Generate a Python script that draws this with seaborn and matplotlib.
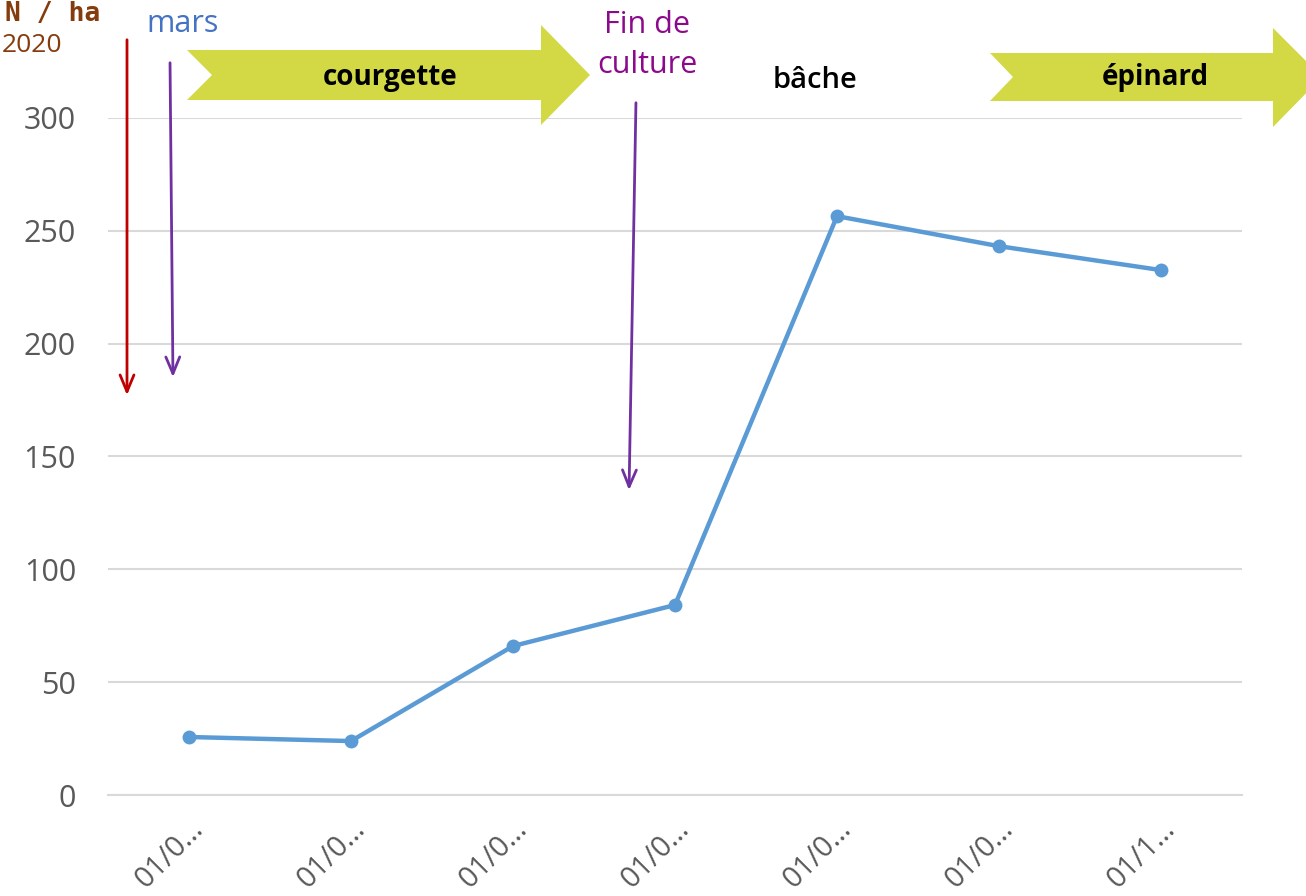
import numpy as np
import pandas as pd
import matplotlib
matplotlib.use("Agg")
import matplotlib.pyplot as plt
from matplotlib.patches import Polygon
import seaborn as sns

# Data
date_labels = ["01/0…", "01/0…", "01/0…", "01/0…", "01/0…", "01/0…", "01/1…"]
n_values = [25.7, 23.9, 66.0, 84.2, 256.5, 243.2, 232.6]
y_ticks = [0, 50, 100, 150, 200, 250, 300]

sns.set_theme(style="white")
plt.rcParams['font.family'] = ['Open Sans', 'DejaVu Sans']

W, H = 1306, 896
fig = plt.figure(figsize=(W / 100, H / 100), dpi=100)
ax = fig.add_axes([108 / W, 1 - 795 / H, (1242 - 108) / W, (795 - 118) / H])

df = pd.DataFrame({"pos": np.arange(len(n_values)), "val": n_values})
sns.lineplot(data=df, x="pos", y="val", ax=ax, color="#5B9BD5", linewidth=3.2,
             marker="o", markersize=10, markeredgewidth=0)

ax.set_xlim(-0.5, len(n_values) - 0.5)
ax.set_ylim(0, 300)
ax.set_yticks(y_ticks)
ax.set_yticklabels([str(v) for v in y_ticks], fontsize=22, color="#595959")
ax.set_xticks(df["pos"])
ax.set_xticklabels(date_labels, rotation=45, ha="right", rotation_mode="anchor",
                   fontsize=21, color="#595959")
ax.set_xticks(np.arange(len(n_values) + 1) - 0.5, minor=True)
ax.tick_params(axis="x", which="major", length=0, pad=14)
ax.tick_params(axis="x", which="minor", length=12, width=1.3, color="#D9D9D9")
ax.tick_params(axis="y", length=0, pad=23)
ax.set_xlabel("")
ax.set_ylabel("")
ax.grid(axis="y", color="#D9D9D9", linewidth=1.5)
ax.set_axisbelow(True)
for side in ["top", "right", "left"]:
    ax.spines[side].set_visible(False)
ax.spines["bottom"].set_color("#D9D9D9")
ax.spines["bottom"].set_linewidth(1.5)


def fpt(px, py):
    return (px / W, 1 - py / H)


def banner(x0, notch, body_end, tip, head_top, body_top, body_bot, head_bot):
    mid = (body_top + body_bot) / 2
    pts = [fpt(x0, body_top), fpt(body_end, body_top), fpt(body_end, head_top),
           fpt(tip, mid), fpt(body_end, head_bot), fpt(body_end, body_bot),
           fpt(x0, body_bot), fpt(notch, mid)]
    fig.patches.append(Polygon(pts, closed=True, transform=fig.transFigure,
                               facecolor="#D2D945", edgecolor="none"))


banner(187, 212, 541, 590, 25, 50, 100, 125)
banner(990, 1013, 1273, 1322, 28, 53, 101, 127)

fig.text(*fpt(390, 77), "courgette", ha="center", va="center", fontsize=20,
         fontweight="bold", color="black")
fig.text(*fpt(1155, 78), "épinard", ha="center", va="center", fontsize=20,
         fontweight="bold", color="black")
fig.text(*fpt(815, 80), "bâche", ha="center", va="center", fontsize=21,
         fontweight="semibold", color="black")
fig.text(*fpt(183, 24), "mars", ha="center", va="center", fontsize=22, color="#4472C4")
fig.text(*fpt(647, 45), "Fin de\nculture", ha="center", va="center", fontsize=22,
         color="#8B0A8B", linespacing=1.45)
fig.text(*fpt(100, 14), "N / ha", ha="right", va="center", fontsize=19,
         fontweight="bold", color="#843C0C", family="DejaVu Sans Mono")
fig.text(*fpt(62, 45), "2020", ha="right", va="center", fontsize=19, color="#843C0C")

arrows = [((127, 37), (127, 398), "#C00000"),
          ((170, 60), (173, 380), "#7030A0"),
          ((636, 100), (629, 493), "#7030A0")]
for start, end, col in arrows:
    fig.add_artist(matplotlib.patches.FancyArrowPatch(
        fpt(*start), fpt(*end), transform=fig.transFigure,
        arrowstyle="->,head_length=12,head_width=5", color=col, linewidth=2,
        mutation_scale=1))

fig.savefig("out.png", dpi=100)
